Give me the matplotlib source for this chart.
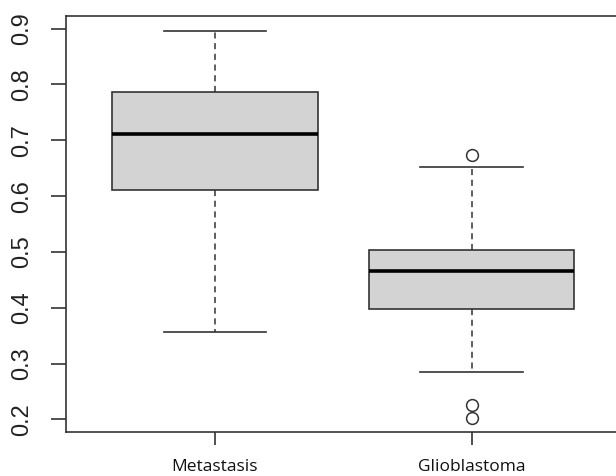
import matplotlib
matplotlib.use("Agg")
import matplotlib.pyplot as plt

# Summary statistics for each group
categories = ["Metastasis", "Glioblastoma"]
whisker_low = [0.357, 0.284]
q1 = [0.611, 0.397]
median = [0.711, 0.466]
q3 = [0.786, 0.504]
whisker_high = [0.895, 0.652]
outliers = [[], [0.674, 0.226, 0.203]]

yticks = [0.2, 0.3, 0.4, 0.5, 0.6, 0.7, 0.8, 0.9]

stats = []
for i, name in enumerate(categories):
    stats.append(dict(label=name, whislo=whisker_low[i], q1=q1[i], med=median[i],
                      q3=q3[i], whishi=whisker_high[i], fliers=outliers[i]))

edge = "#333333"
fig = plt.figure(figsize=(6.16, 4.76), dpi=100)
ax = fig.add_axes([66 / 616, 44 / 476, 554.5 / 616, 416 / 476])

ax.bxp(stats, positions=[1, 2], widths=0.8, patch_artist=True,
       boxprops=dict(facecolor="#d3d3d3", edgecolor=edge, linewidth=1.2),
       medianprops=dict(color="black", linewidth=2.6, solid_capstyle="butt"),
       whiskerprops=dict(color=edge, linewidth=1.1, linestyle=(0, (4, 3))),
       capprops=dict(color=edge, linewidth=1.2),
       capwidths=0.4,
       flierprops=dict(marker="o", markerfacecolor="none", markeredgecolor=edge,
                       markersize=8.5, markeredgewidth=1.1))

ax.set_xlim(0.42, 2.58)
ax.set_ylim(0.1774, 0.9226)
ax.set_yticks(yticks)
ax.set_yticklabels([f"{t:.1f}" for t in yticks], rotation=90, va="center",
                   fontsize=17, family="Liberation Sans", color="#222222")
ax.set_xticks([1, 2])
ax.set_xticklabels(categories, fontsize=12.5, family="Open Sans", color="#111111")

ax.tick_params(axis="y", length=11, width=1.2, color=edge, pad=13)
ax.tick_params(axis="x", length=9, width=1.2, color=edge, pad=10.5)
for s in ax.spines.values():
    s.set_color(edge)
    s.set_linewidth(1.2)

fig.savefig("out.png", dpi=100)
